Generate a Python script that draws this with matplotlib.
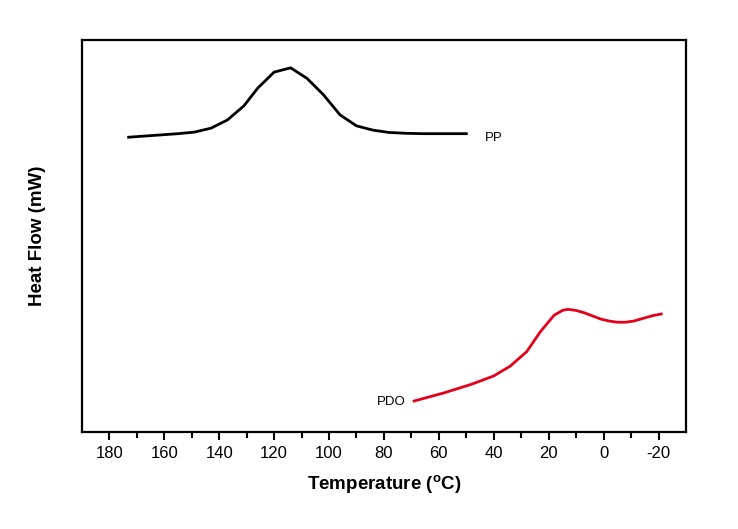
import matplotlib.pyplot as plt
import numpy as np

plt.rcParams['font.family'] = ['Liberation Sans', 'DejaVu Sans']
plt.rcParams['mathtext.fontset'] = 'custom'
plt.rcParams['mathtext.rm'] = 'Liberation Sans'
plt.rcParams['mathtext.bf'] = 'Liberation Sans:bold'
plt.rcParams['axes.unicode_minus'] = False

# PP cooling trace (temperature in C, heat flow in arbitrary units)
pp_temp = [173, 167, 161, 155, 149, 143, 137, 131, 126, 120, 114, 108,
           102, 96, 90, 84, 78, 72, 66, 60, 54, 50]
pp_flow = [7.52, 7.55, 7.58, 7.61, 7.65, 7.75, 7.96, 8.32, 8.77, 9.18, 9.29, 9.02,
           8.60, 8.09, 7.81, 7.70, 7.64, 7.62, 7.61, 7.61, 7.61, 7.61]

# PDO cooling trace
pdo_temp = [69, 58, 48, 40, 34, 28, 23, 18, 15, 13, 10, 7, 4, 1, -2, -5, -8,
            -11, -14, -16, -18, -21]
pdo_flow = [0.79, 1.00, 1.22, 1.43, 1.68, 2.05, 2.56, 2.98, 3.10, 3.13, 3.10, 3.04,
            2.96, 2.88, 2.83, 2.80, 2.80, 2.83, 2.89, 2.93, 2.97, 3.01]

xticks = [180, 160, 140, 120, 100, 80, 60, 40, 20, 0, -20]

fig = plt.figure(figsize=(7.38, 5.29), dpi=100)
ax = fig.add_axes([0.111, 0.1834, 0.8185, 0.741])

ax.plot(pp_temp, pp_flow, color="black", lw=2.0)
ax.plot(pdo_temp, pdo_flow, color="#e3001b", lw=2.0)
ax.text(43.2, 7.5, "PP", fontsize=9.5, ha="left", va="center")
ax.text(72, 0.77, "PDO", fontsize=9.5, ha="right", va="center")

ax.set_xlim(190, -30)
ax.set_ylim(0, 10)
ax.set_xticks(xticks)
ax.set_xticks(np.arange(170, -30, -20), minor=True)
ax.set_yticks([])
ax.tick_params(axis="x", which="major", direction="out", length=6, width=1.5,
               labelsize=12, pad=4)
ax.tick_params(axis="x", which="minor", direction="out", length=4, width=1.5)
for s in ax.spines.values():
    s.set_linewidth(1.6)

ax.set_xlabel(r"Temperature ($^{\mathbf{o}}$C)", fontsize=13.5, fontweight="bold", labelpad=9)
ax.set_ylabel("Heat Flow (mW)", fontsize=13.5, fontweight="bold", labelpad=26)

fig.savefig("out.png", dpi=100)
